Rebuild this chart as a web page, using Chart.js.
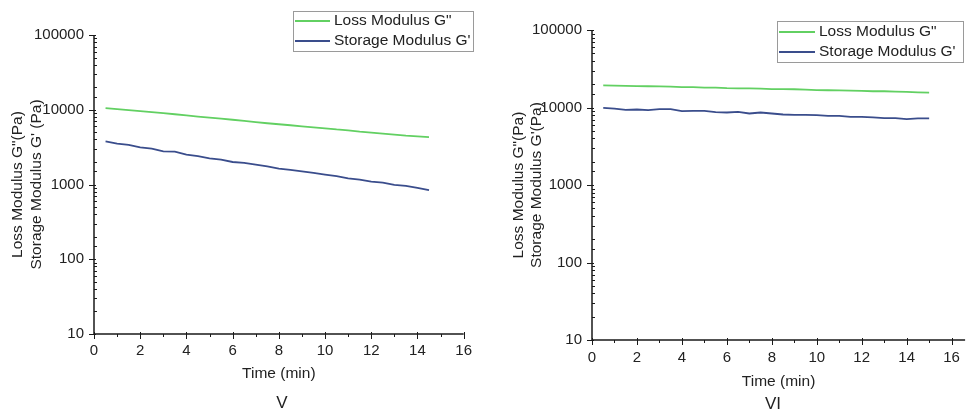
<!DOCTYPE html>
<html>
<head>
<meta charset="utf-8">
<script src="https://cdn.jsdelivr.net/npm/chart.js@4.4.1/dist/chart.umd.min.js"></script>
<style>
  body { margin: 0; background: #fff; width: 969px; height: 414px; overflow: hidden; position: relative; font-family: "Liberation Sans", Arial, sans-serif; }
  canvas { position: absolute; top: 0; }
  #chartV { left: 0; }
  #chartVI { left: 490px; }
  .panel-label { position: absolute; font-size: 17px; color: #222; transform: translateX(-50%); }
</style>
</head>
<body>
<canvas id="chartV" width="480" height="414"></canvas>
<canvas id="chartVI" width="479" height="414"></canvas>
<div class="panel-label" style="left:282px; top:393px">V</div>
<div class="panel-label" style="left:773px; top:394px">VI</div>
<script>
// panel V
const timeV = [0.5, 1, 1.5, 2, 2.5, 3, 3.5, 4, 4.5, 5, 5.5, 6, 6.5, 7, 7.5, 8, 8.5, 9, 9.5, 10, 10.5, 11, 11.5, 12, 12.5, 13, 13.5, 14, 14.5];
const lossV = [10500, 10200, 9900, 9600, 9300, 9000, 8700, 8400, 8100, 7850, 7600, 7350, 7100, 6850, 6600, 6400, 6200, 6000, 5800, 5650, 5450, 5300, 5100, 4950, 4800, 4650, 4500, 4400, 4300];
const storageV = [3780, 3520, 3400, 3140, 3010, 2780, 2750, 2510, 2390, 2240, 2150, 2000, 1950, 1850, 1750, 1630, 1570, 1500, 1430, 1360, 1290, 1210, 1160, 1095, 1060, 990, 960, 900, 840];

// panel VI
const timeVI = [0.5, 1, 1.5, 2, 2.5, 3, 3.5, 4, 4.5, 5, 5.5, 6, 6.5, 7, 7.5, 8, 8.5, 9, 9.5, 10, 10.5, 11, 11.5, 12, 12.5, 13, 13.5, 14, 14.5, 15];
const lossVI = [19300, 19200, 19000, 18900, 18800, 18700, 18600, 18300, 18300, 18100, 18100, 17800, 17700, 17600, 17500, 17300, 17300, 17200, 17000, 16800, 16700, 16600, 16500, 16400, 16200, 16200, 16000, 15900, 15700, 15600];
const storageVI = [9900, 9700, 9330, 9420, 9240, 9520, 9520, 8980, 9060, 9060, 8710, 8620, 8790, 8370, 8620, 8370, 8120, 8050, 8050, 7970, 7810, 7810, 7580, 7580, 7440, 7280, 7280, 7070, 7220, 7220];

const seriesLabels = ['Loss Modulus G"', "Storage Modulus G'"];
const FONT = '"Liberation Sans", Arial, sans-serif';

const isDecade = v => Math.abs(Math.log10(v) - Math.round(Math.log10(v))) < 1e-6;

// axis lines, ticks (major out, minor y in) and the boxed legend
const axesAndLegend = {
  id: 'axesAndLegend',
  afterDraw(chart, args, opts) {
    const { ctx, chartArea: a, scales: { x, y } } = chart;
    ctx.save();
    ctx.strokeStyle = '#1a1a1a';
    ctx.lineWidth = 1.5;
    ctx.beginPath();
    ctx.moveTo(a.left, a.top);
    ctx.lineTo(a.left, a.bottom);
    ctx.lineTo(a.right, a.bottom);
    ctx.stroke();

    ctx.lineWidth = 1;
    ctx.beginPath();
    x.ticks.forEach(t => {
      const px = Math.round(x.getPixelForValue(t.value)) + 0.5;
      const major = t.value % 2 === 0;
      ctx.moveTo(px, a.bottom - (major ? 2 : 0));
      ctx.lineTo(px, a.bottom + (major ? 5 : 3));
    });
    y.ticks.forEach(t => {
      const py = Math.round(y.getPixelForValue(t.value)) + 0.5;
      if (isDecade(t.value)) {
        ctx.moveTo(a.left + 2, py);
        ctx.lineTo(a.left - 5, py);
      } else {
        ctx.moveTo(a.left, py);
        ctx.lineTo(a.left + 3, py);
      }
    });
    ctx.stroke();

    // legend
    ctx.fillStyle = '#fff';
    ctx.fillRect(opts.x, opts.y, opts.w, opts.h);
    ctx.strokeStyle = '#9a9a9a';
    ctx.strokeRect(opts.x + 0.5, opts.y + 0.5, opts.w, opts.h);
    chart.data.datasets.forEach((ds, i) => {
      const cy = opts.y + opts.rowTop + i * opts.rowGap;
      ctx.strokeStyle = ds.borderColor;
      ctx.lineWidth = 2;
      ctx.beginPath();
      ctx.moveTo(opts.x + 2, cy);
      ctx.lineTo(opts.x + 2 + opts.lineLen, cy);
      ctx.stroke();
      ctx.fillStyle = '#222';
      ctx.font = '15.5px ' + FONT;
      ctx.textBaseline = 'middle';
      ctx.fillText(ds.label, opts.x + opts.lineLen + 6, cy);
    });
    ctx.restore();
  }
};

function makeChart(id, times, loss, storage, cfg) {
  return new Chart(document.getElementById(id), {
    type: 'line',
    data: {
      datasets: [
        {
          label: seriesLabels[0],
          data: times.map((t, i) => ({ x: t, y: loss[i] })),
          borderColor: '#62d062',
          borderWidth: 1.8,
          pointRadius: 0,
          fill: false,
        },
        {
          label: seriesLabels[1],
          data: times.map((t, i) => ({ x: t, y: storage[i] })),
          borderColor: '#3a4d8c',
          borderWidth: 1.8,
          pointRadius: 0,
          fill: false,
        },
      ],
    },
    options: {
      responsive: false,
      animation: false,
      layout: { padding: cfg.padding },
      plugins: {
        legend: { display: false },
        tooltip: { enabled: false },
        axesAndLegend: cfg.legend,
      },
      scales: {
        x: {
          type: 'linear',
          min: 0,
          max: cfg.xMax,
          grid: { display: false, drawTicks: false },
          border: { display: false },
          afterBuildTicks: s => { s.ticks = s.ticks.filter(t => Number.isInteger(t.value) && t.value <= 16); },
          afterFit: s => { s.height = cfg.xHeight; },
          ticks: {
            stepSize: 1,
            includeBounds: false,
            autoSkip: false,
            maxRotation: 0,
            padding: cfg.xTickPad,
            color: '#222',
            font: { family: FONT, size: 15 },
            callback: v => (v % 2 === 0 ? String(v) : ''),
          },
          title: {
            display: true,
            text: 'Time (min)',
            color: '#222',
            font: { family: FONT, size: 15.5 },
            padding: { top: cfg.xTitlePad, bottom: cfg.xTitlePad },
          },
        },
        y: {
          type: 'logarithmic',
          min: 10,
          max: 100000,
          grid: { display: false, drawTicks: false },
          border: { display: false },
          afterFit: s => { s.width = cfg.yWidth; },
          ticks: {
            autoSkip: false,
            padding: 10,
            color: '#222',
            font: { family: FONT, size: 15 },
            callback: v => (isDecade(v) ? String(v) : ''),
          },
          title: {
            display: true,
            text: cfg.yTitle,
            color: '#222',
            font: { family: FONT, size: 15.5 },
            padding: { top: cfg.yTitlePad, bottom: cfg.yTitlePad },
          },
        },
      },
    },
    plugins: [axesAndLegend],
  });
}

makeChart('chartV', timeV, lossV, storageV, {
  padding: { top: 35, right: 15, left: 0, bottom: 0 },
  xMax: 16,
  xHeight: 80,
  yWidth: 94,
  xTickPad: 8,
  xTitlePad: 30.7,
  yTitlePad: 8.7,
  yTitle: ['Loss Modulus G"(Pa)', "Storage Modulus G' (Pa)"],
  legend: { x: 293, y: 11, w: 180, h: 40, rowTop: 10, rowGap: 20, lineLen: 35 },
});

makeChart('chartVI', timeVI, lossVI, storageVI, {
  padding: { top: 30, right: 1, left: 0, bottom: 0 },
  xMax: 16.6,
  xHeight: 74,
  yWidth: 102,
  xTickPad: 9,
  xTitlePad: 22.7,
  yTitlePad: 19,
  yTitle: ['Loss Modulus G"(Pa)', "Storage Modulus G'(Pa)"],
  legend: { x: 287, y: 21, w: 186, h: 41, rowTop: 11, rowGap: 20, lineLen: 36 },
});
</script>
</body>
</html>
